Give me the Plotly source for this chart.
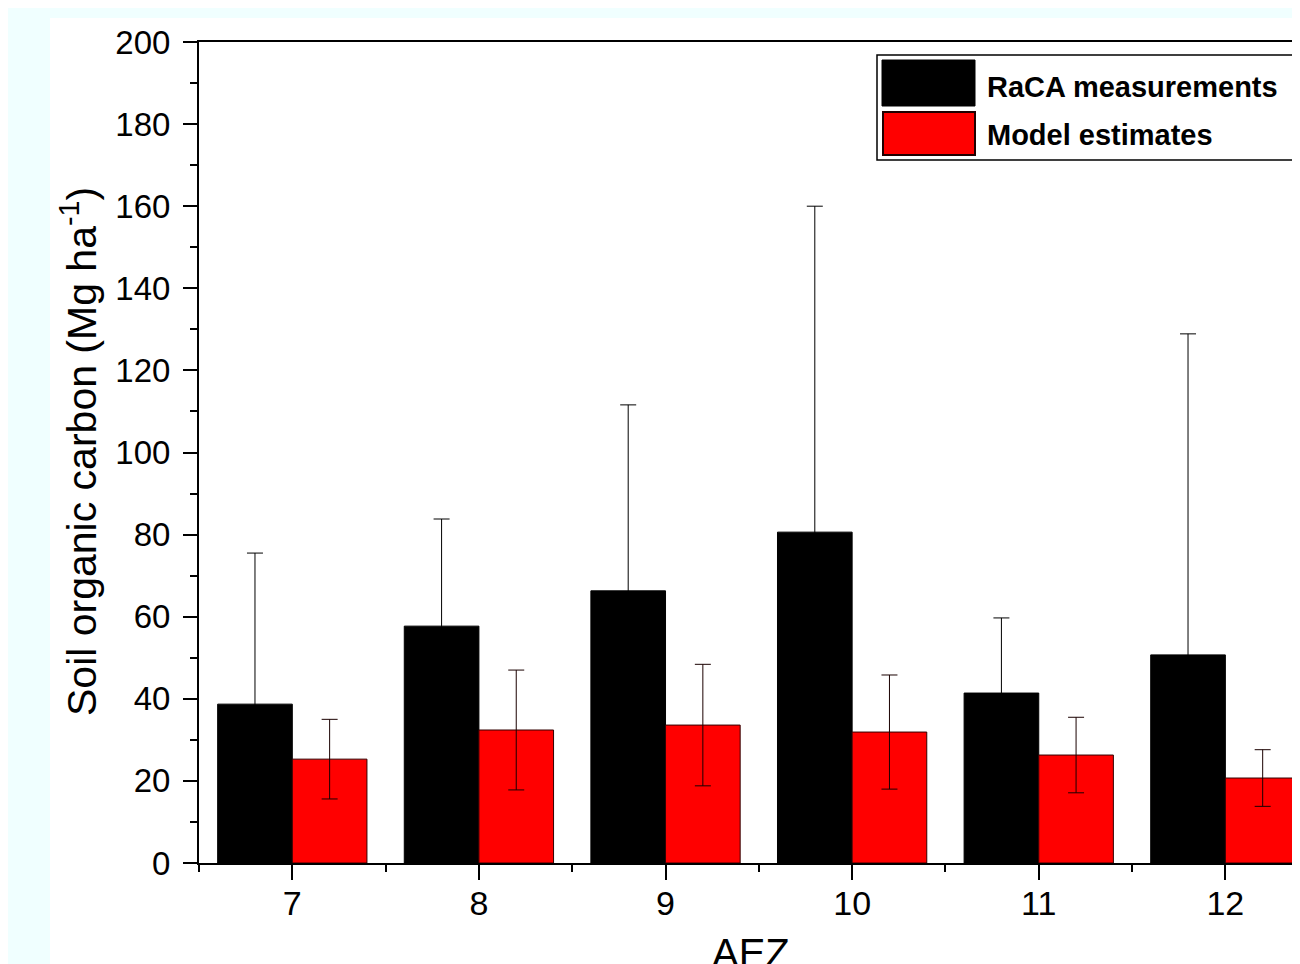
import plotly.graph_objects as go

# ---- data ----
aez = [7, 8, 9, 10, 11, 12]
raca_mean = [38.7, 57.7, 66.3, 80.6, 41.4, 50.7]
raca_sd = [36.8, 26.1, 45.3, 79.4, 18.3, 78.2]
model_mean = [25.3, 32.4, 33.6, 31.9, 26.3, 20.7]
model_sd = [9.7, 14.6, 14.8, 13.9, 9.2, 6.9]
series_names = ["RaCA measurements", "Model estimates"]
y_ticks = list(range(0, 201, 20))

# The page body has an 8px margin, so the figure is drawn from (8, 8).
OFF = 8
W, H = 1300 - OFF, 964 - OFF
# plot area in page pixels: x 199..1300, y 42..863
L, T = 199 - OFF, 42 - OFF
R = 0
B = H - (863 - OFF)
PW, PH = W - L - R, H - T - B

def px(xp):  # page x pixel -> paper
    return (xp - OFF - L) / PW

def py(yp):  # page y pixel -> paper
    return (H - B - (yp - OFF)) / PH

FONT = "Arial, Liberation Sans, sans-serif"

fig = go.Figure()
fig.add_trace(go.Bar(
    x=aez, y=raca_mean, name=series_names[0],
    marker=dict(color="black", line=dict(color="black", width=1)),
    error_y=dict(type="data", array=raca_sd, visible=True, color="black", thickness=1, width=8),
))
fig.add_trace(go.Bar(
    x=aez, y=model_mean, name=series_names[1],
    marker=dict(color="#FF0000", line=dict(color="#330000", width=1)),
    error_y=dict(type="data", array=model_sd, visible=True, color="#1a0000", thickness=1, width=8),
))

fig.update_layout(
    width=W, height=H,
    margin=dict(l=L, r=R, t=T, b=B, autoexpand=False),
    paper_bgcolor="#F0FFFF",
    plot_bgcolor="white",
    barmode="group", bargap=0.2, bargroupgap=0,
    showlegend=False,
    font=dict(family=FONT, color="black", size=24),
)

fig.update_xaxes(
    range=[6.5, 12.4], tickvals=aez, ticktext=[str(a) for a in aez],
    ticks="outside", ticklen=15, tickwidth=2, tickcolor="black",
    showline=True, linewidth=2, linecolor="black", mirror=True,
    showgrid=False, zeroline=False,
    tickfont=dict(size=34, family=FONT),
    ticklabelstandoff=-6,
    minor=dict(tickvals=[6.5, 7.5, 8.5, 9.5, 10.5, 11.5], ticks="outside", ticklen=7, tickwidth=2, tickcolor="black"),
)
fig.update_yaxes(
    range=[0, 200], tickvals=y_ticks,
    ticks="outside", ticklen=14, tickwidth=2, tickcolor="black",
    showline=True, linewidth=2, linecolor="black", mirror=False,
    showgrid=False, zeroline=False,
    tickfont=dict(size=33, family=FONT),
    ticklabelstandoff=6,
    minor=dict(dtick=10, ticks="outside", ticklen=7, tickwidth=2, tickcolor="black"),
)

shapes = [
    # white panel behind the chart
    dict(type="rect", xref="paper", yref="paper", x0=px(50), x1=px(1300), y0=py(964), y1=py(18),
         fillcolor="white", line=dict(width=0), layer="below"),
    # legend box
    dict(type="rect", xref="paper", yref="paper", x0=px(877), x1=px(1298), y0=py(160), y1=py(55),
         fillcolor="white", line=dict(color="black", width=1.5)),
    dict(type="rect", xref="paper", yref="paper", x0=px(882), x1=px(975), y0=py(106), y1=py(60),
         fillcolor="black", line=dict(color="black", width=1)),
    dict(type="rect", xref="paper", yref="paper", x0=px(883), x1=px(975), y0=py(155), y1=py(112),
         fillcolor="#FF0000", line=dict(color="#220000", width=2)),
]
fig.update_layout(shapes=shapes)

annotations = [
    dict(text=series_names[0], xref="paper", yref="paper", x=px(985), y=py(87),
         xanchor="left", yanchor="middle", showarrow=False,
         font=dict(size=29, family=FONT, color="black", weight="bold")),
    dict(text=series_names[1], xref="paper", yref="paper", x=px(985), y=py(135),
         xanchor="left", yanchor="middle", showarrow=False,
         font=dict(size=29, family=FONT, color="black", weight="bold")),
    dict(text="Soil organic carbon (Mg ha<sup>-1</sup>)", xref="paper", yref="paper",
         x=px(79), y=py(452), xanchor="center", yanchor="middle", textangle=-90, showarrow=False,
         font=dict(size=41, family=FONT, color="black")),
    dict(text="AEZ", xref="paper", yref="paper", x=px(751), y=py(929),
         xanchor="center", yanchor="top", showarrow=False,
         font=dict(size=40, family=FONT, color="black")),
]
fig.update_layout(annotations=annotations)

fig.write_html("out.html")
